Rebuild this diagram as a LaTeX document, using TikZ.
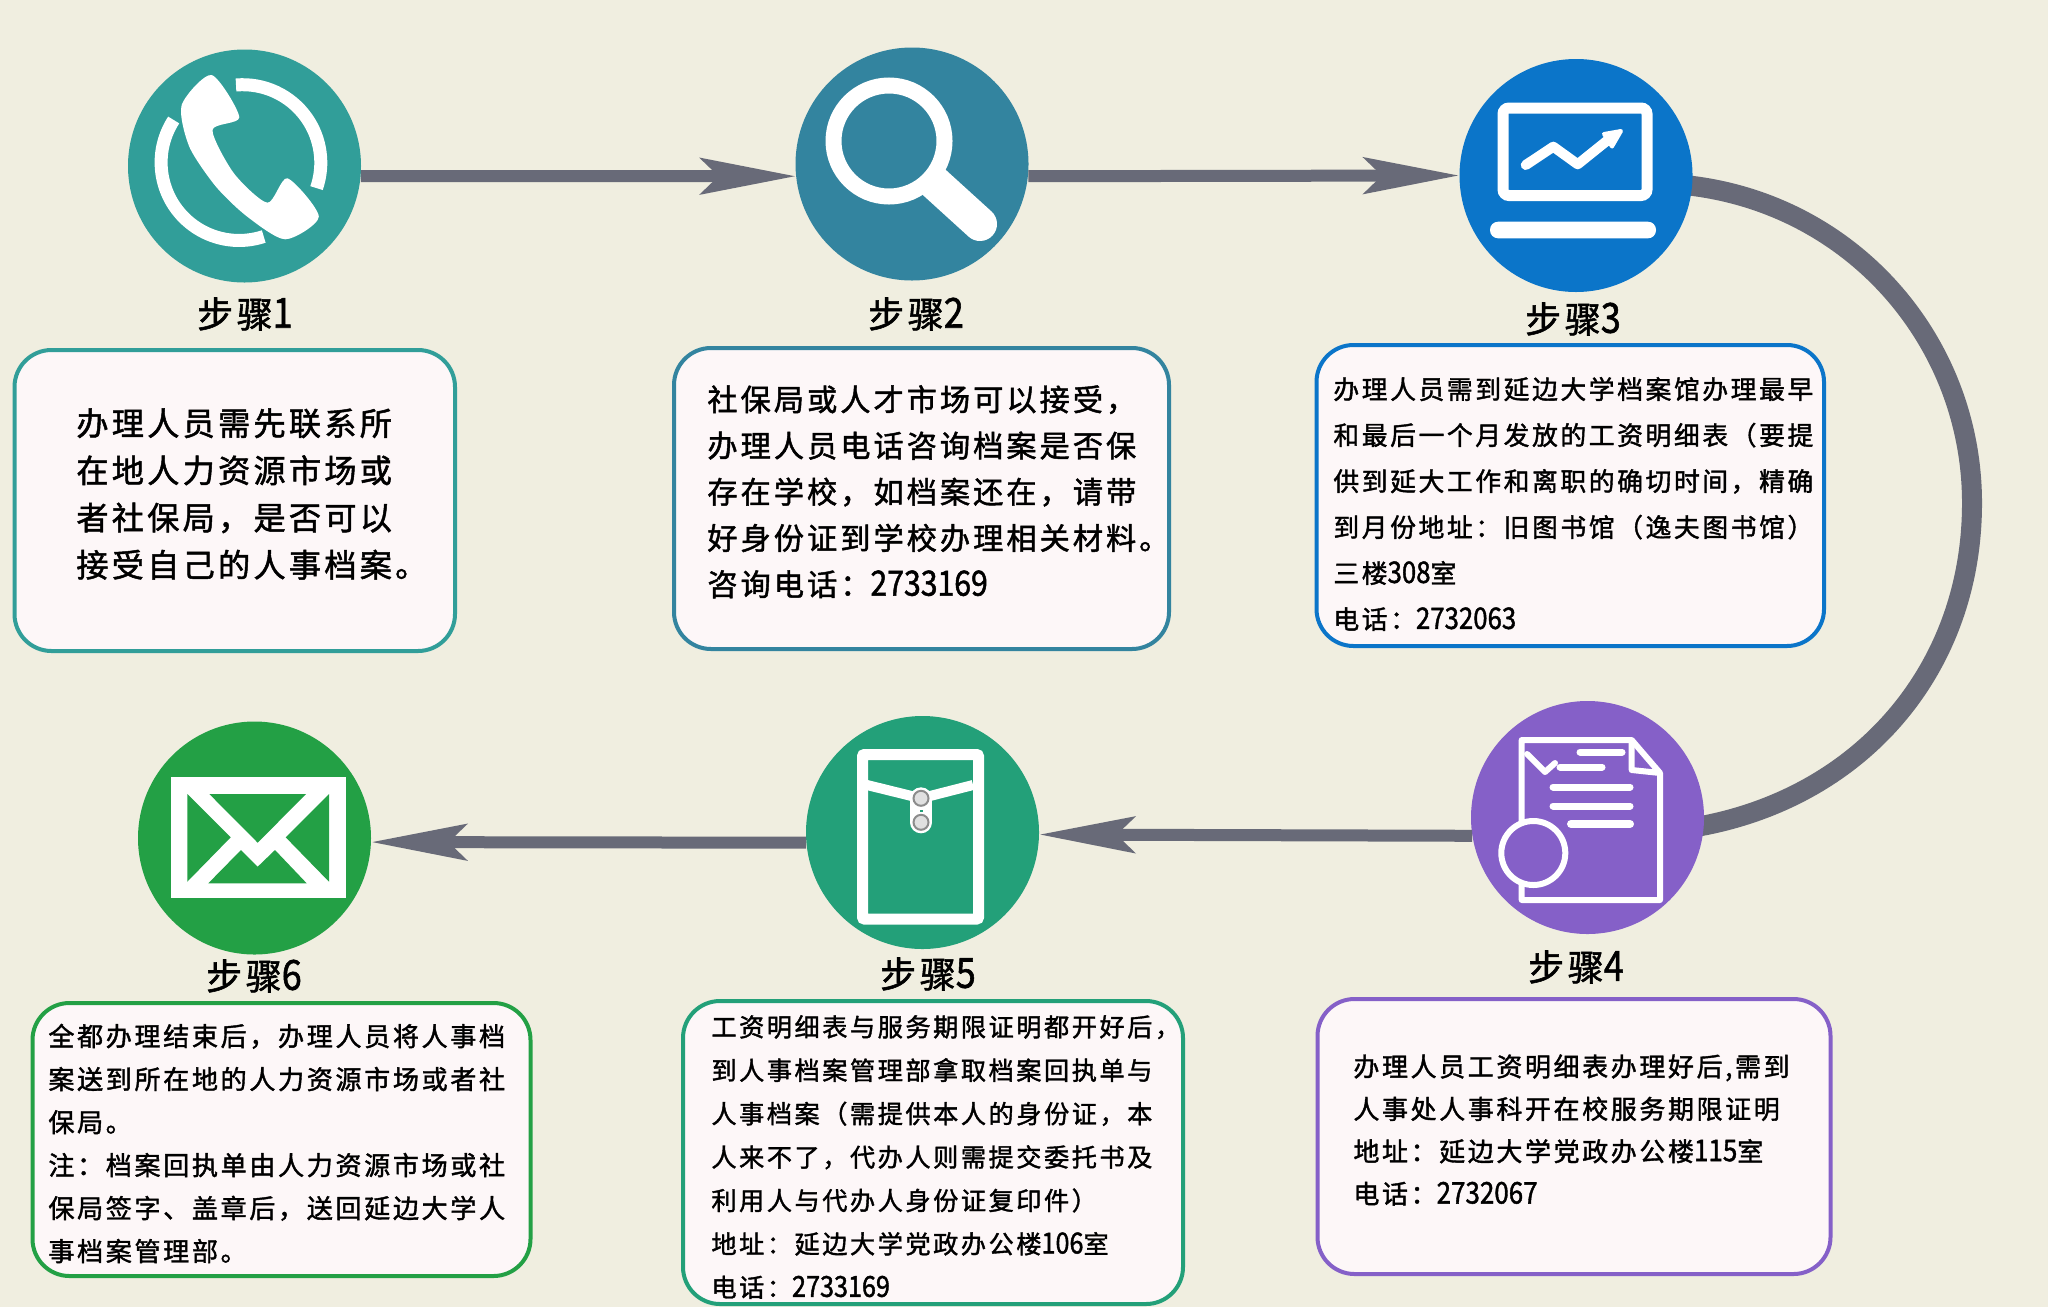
\documentclass[tikz,border=0pt]{standalone}
\usepackage{fontspec}
\usepackage{graphicx}
\usetikzlibrary{arrows.meta,backgrounds}
\newfontfamily\cjktext[LetterSpace=10,FakeBold=1.5]{Noto Sans CJK SC}
\newfontfamily\cjkdigit[FakeBold=1.5]{Noto Sans CJK SC}
\newcommand{\nb}[1]{\scalebox{1}[1.15]{\cjkdigit #1}}
\newcommand{\boxfont}[2]{\cjktext\fontsize{#1pt}{#2pt}\selectfont}
\definecolor{pagebg}{HTML}{F0EEE0}
\definecolor{boxbg}{HTML}{FDF7F8}
\definecolor{flowgrey}{HTML}{686A78}
\definecolor{colorone}{HTML}{319E99}
\definecolor{colortwo}{HTML}{33849F}
\definecolor{colorthree}{HTML}{0B75C9}
\definecolor{colorfour}{HTML}{8560C8}
\definecolor{colorfive}{HTML}{23A079}
\definecolor{colorsix}{HTML}{23A045}
\tikzset{
  stepdisc/.style={circle,fill=#1,inner sep=0pt,minimum size=116.5pt},
  steplabel/.style={font=\boxfont{18}{22},inner sep=0pt},
  stepframe/.style={draw=#1,fill=boxbg,line width=2pt,rounded corners=18.5pt,rectangle},
  boxtext/.style={anchor=west,align=left,inner sep=0pt},
  flowarrow/.style={draw=flowgrey,line width=6pt,-{Stealth[length=47.5pt,width=18pt,inset=9pt]}},
  flowcurve/.style={draw=flowgrey,line width=10pt,shorten <=-6pt,shorten >=-6pt},
  iconline/.style={draw=white,line width=#1},
  iconfill/.style={fill=white}
}
\begin{document}
\begin{tikzpicture}[x=0.5pt,y=-0.5pt]
\useasboundingbox (0,0) rectangle (2048,1307);

\node[stepdisc=colorone] (step1) at (244.5,166) {};
\node[stepdisc=colortwo] (step2) at (912,164) {};
\node[stepdisc=colorthree] (step3) at (1576,175.5) {};
\node[stepdisc=colorfour] (step4) at (1587.5,817.5) {};
\node[stepdisc=colorfive] (step5) at (922.5,832.5) {};
\node[stepdisc=colorsix] (step6) at (254.5,838) {};

\begin{pgfonlayer}{background}
\fill[pagebg] (0,0) rectangle (2048,1307);
\path[flowcurve] (step3.-5) .. controls (1850,200) and (1972,340) .. (1972,503) .. controls (1972,670) and (1860,800) .. (step4.-4);
\end{pgfonlayer}

\path[flowarrow] (step1.-5.5) -- (step2.186);
\path[flowarrow] (step2.-6) -- (step3.180);
\path[flowarrow] (step4.189) -- (step5.-1);
\path[flowarrow] (step5.185) -- (step6.-2);

\node[steplabel] (label1) at (245,314) {步骤\nb{1}};
\node[steplabel] (label2) at (916,314) {步骤\nb{2}};
\node[steplabel] (label3) at (1573,319) {步骤\nb{3}};
\node[steplabel] (label4) at (1576,967) {步骤\nb{4}};
\node[steplabel] (label5) at (928,974) {步骤\nb{5}};
\node[steplabel] (label6) at (254,976) {步骤\nb{6}};

\node[stepframe=colorone,minimum width=220.25pt,minimum height=150.5pt] (box1) at (234.75,500.5) {};
\node[stepframe=colortwo,minimum width=247.5pt,minimum height=150.5pt] (box2) at (921.5,498.5) {};
\node[stepframe=colorthree,minimum width=253.75pt,minimum height=150.5pt] (box3) at (1570.25,495.5) {};
\node[stepframe=colorfour,minimum width=256.5pt,minimum height=137.5pt] (box4) at (1574,1136.5) {};
\node[stepframe=colorfive,minimum width=250pt,minimum height=151.5pt] (box5) at (933,1152.5) {};
\node[stepframe=colorsix,minimum width=249pt,minimum height=136.5pt] (box6) at (281.5,1139.5) {};

\node[boxtext,font=\boxfont{16.1}{23.6}] (text1) at (76,494) {办理人员需先联系所\\在地人力资源市场或\\者社保局，是否可以\\接受自己的人事档案。};
\node[boxtext,font=\boxfont{15.1}{23.1}] (text2) at (707,491.8) {社保局或人才市场可以接受，\\办理人员电话咨询档案是否保\\存在学校，如档案还在，请带\\好身份证到学校办理相关材料。\\咨询电话：\nb{2733169}};
\node[boxtext,font=\boxfont{12.9}{23}] (text3) at (1333,504) {办理人员需到延边大学档案馆办理最早\\和最后一个月发放的工资明细表（要提\\供到延大工作和离职的确切时间，精确\\到月份地址：旧图书馆（逸夫图书馆）\\三楼\nb{308}室\\电话：\nb{2732063}};
\node[boxtext,font=\boxfont{13}{21.2}] (text4) at (1353,1130) {办理人员工资明细表办理好后,需到\\人事处人事科开在校服务期限证明\\地址：延边大学党政办公楼\nb{115}室\\电话：\nb{2732067}};
\node[boxtext,font=\boxfont{12.6}{21.7}] (text5) at (711,1157) {工资明细表与服务期限证明都开好后，\\到人事档案管理部拿取档案回执单与\\人事档案（需提供本人的身份证，本\\人来不了，代办人则需提交委托书及\\利用人与代办人身份证复印件）\\地址：延边大学党政办公楼\nb{106}室\\电话：\nb{2733169}};
\node[boxtext,font=\boxfont{13.05}{21.5}] (text6) at (48,1143.5) {全都办理结束后，办理人员将人事档\\案送到所在地的人力资源市场或者社\\保局。\\注：档案回执单由人力资源市场或社\\保局签字、盖章后，送回延边大学人\\事档案管理部。};

\fill[iconfill] plot[smooth cycle,tension=0.45] coordinates {(211.6,75) (181.7,105) (189.3,146.7) (216,186.7) (247.3,216.7) (285.3,239.3) (318.8,216.7) (287.5,178.3) (267.4,202.7) (233.9,173.3) (212.5,130) (239.3,117.3)};
\draw[iconline=6.5pt] (236,85) arc[start angle=-95,end angle=19,radius=78];
\draw[iconline=6.5pt] (173.7,120) arc[start angle=213,end angle=71.6,radius=78];

\draw[iconline=17pt,line cap=round] (925,174) -- (980,224);
\draw[iconline=8pt,fill=colortwo] (889,141) circle[radius=55.5];

\draw[iconline=5.5pt,rounded corners=3pt] (1503,108) rectangle (1647,195.5);
\fill[iconfill,rounded corners=4pt] (1490,221.7) rectangle (1656,238.3);
\draw[iconline=5pt,line cap=round,line join=round] (1525.7,165) -- (1553.3,146.7) -- (1577.7,164.3) -- (1610,138.3);
\draw[iconline=2pt,fill=white,line join=round] (1621,131) -- (1604,134) -- (1612,146.5) -- cycle;

\draw[iconline=3pt,line join=round] (1521.7,860) -- (1521.7,740) -- (1631.7,740) -- (1660,773) -- (1660,900) -- (1521.7,900) -- (1521.7,880);
\draw[iconline=3pt,line join=round] (1631.7,740) -- (1631.7,770) -- (1660,773);
\draw[iconline=3pt,fill=colorfour] (1533.3,853) circle[radius=32];
\draw[iconline=3.5pt,line cap=round] (1580,752) -- (1622,752);
\draw[iconline=3.5pt,line cap=round] (1560,767) -- (1602,767);
\draw[iconline=3pt,line cap=round,line join=round] (1527,754) -- (1545,772) -- (1555,763);
\draw[iconline=3.5pt,line cap=round] (1553,787) -- (1630,787);
\draw[iconline=3.5pt,line cap=round] (1553,806) -- (1630,806);
\draw[iconline=4pt,line cap=round] (1571,824) -- (1630,824);

\draw[iconline=5.5pt,rounded corners=1pt] (862.5,754.5) rectangle (978.5,919);
\draw[iconline=5pt] (867,785) -- (921,798.3) -- (973,785);
\draw[iconline=11pt,line cap=round] (921,798.3) -- (921,822.3);
\fill[colorfive] (919.5,809.5) rectangle (923,811.5);
\draw[draw=black!45,fill=black!12,line width=1pt] (921,798.3) circle[radius=7.5];
\draw[draw=black!45,fill=black!12,line width=1pt] (921,822.3) circle[radius=7.5];

\fill[iconfill] (171,777.3) rectangle (345.7,898.3);
\fill[colorsix] (209.3,794) -- (306,794) -- (257.7,842.7) -- cycle;
\fill[colorsix] (187.3,794) -- (230.7,837.3) -- (187.3,881.7) -- cycle;
\fill[colorsix] (329,794) -- (285.7,837.3) -- (329,881.7) -- cycle;
\fill[colorsix] (208.3,883.3) -- (241,850) -- (257.7,866.7) -- (275,850) -- (306.7,883.3) -- cycle;
\end{tikzpicture}
\end{document}
